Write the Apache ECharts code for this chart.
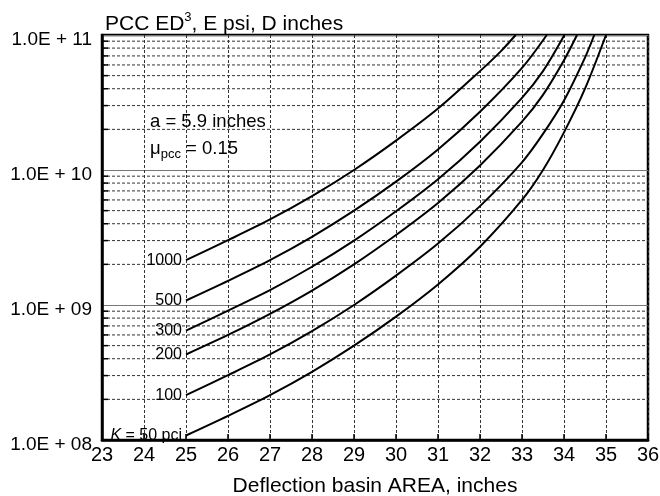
<!DOCTYPE html>
<html>
<head>
<meta charset="utf-8">
<script src="https://cdn.jsdelivr.net/npm/echarts@6/dist/echarts.min.js"></script>
<style>
html,body{margin:0;padding:0;background:#fff;}
#chart{width:660px;height:496px;}
</style>
</head>
<body>
<div id="chart"></div>
<script>
// ---- data ----
const curveLabels = ['{i|K}{t| = 50 pci}', '{t|100}', '{t|200}', '{t|300}', '{t|500}', '{t|1000}'];
const K50   = [[25,1.08e8],[26,1.51e8],[27,2.15e8],[28,3.2e8],[29,5.0e8],[30,8.2e8],[31,1.42e9],[32,2.7e9],[33,6.0e9],[33.5,1.0e10],[34,1.9e10],[34.5,4.0e10],[35.0,1e11]];
const K100  = [[25,2.15e8],[26,3.02e8],[27,4.3e8],[28,6.4e8],[29,1.0e9],[30,1.65e9],[31,2.85e9],[32,5.4e9],[33,1.14e10],[33.5,1.85e10],[34,3.27e10],[34.5,6.8e10],[34.72,1e11]];
const K200  = [[25,4.3e8],[26,6.0e8],[27,8.6e8],[28,1.28e9],[29,2.0e9],[30,3.3e9],[31,5.7e9],[32,1.08e10],[33,2.28e10],[33.5,3.6e10],[34,6.5e10],[34.31,1e11]];
const K300  = [[25,6.45e8],[26,9.1e8],[27,1.29e9],[28,1.92e9],[29,3.0e9],[30,4.95e9],[31,8.55e9],[32,1.62e10],[33,3.42e10],[33.5,5.4e10],[34.01,1e11]];
const K500  = [[25,1.08e9],[26,1.51e9],[27,2.15e9],[28,3.2e9],[29,5.0e9],[30,8.2e9],[31,1.42e10],[32,2.7e10],[33,5.7e10],[33.59,1e11]];
const K1000 = [[25,2.15e9],[26,3.02e9],[27,4.3e9],[28,6.4e9],[29,1.0e10],[30,1.65e10],[31,2.85e10],[32,5.4e10],[32.5,7.6e10],[32.85,1e11]];
const curves = [K50, K100, K200, K300, K500, K1000];
const yTickLabels = {8:'1.0E + 08', 9:'1.0E + 09', 10:'1.0E + 10', 11:'1.0E + 11'};
const xMin = 23, xMax = 36;
const yMin = 1e8, yMax = 1e11;

// minor log gridlines (2..9 per decade)
const minorVals = [];
for (let e = 8; e <= 10; e++) for (let m = 2; m <= 9; m++) minorVals.push([xMin, m * Math.pow(10, e)]);

const FONT = '"Liberation Sans", Arial, sans-serif';
const chart = echarts.init(document.getElementById('chart'), null, {renderer: 'canvas'});

const lineSeries = curves.map((arr, k) => ({
  type: 'line',
  name: 'K' + k,
  data: arr.map((p, i) => i === 0 ? {
    value: p,
    label: {
      show: true, position: [-4, 0], align: 'right', verticalAlign: 'middle',
      formatter: curveLabels[k],
      rich: {
        i: {fontStyle: 'italic', fontFamily: FONT, fontSize: 16, color: '#000'},
        t: {fontFamily: FONT, fontSize: 16, color: '#000'}
      }
    }
  } : p),
  smooth: 0.3,
  symbol: 'circle', symbolSize: 0, showSymbol: true,
  lineStyle: {color: '#000', width: 2},
  itemStyle: {color: '#000'},
  emphasis: {disabled: true},
  silent: true,
  z: 5
}));

const minorSeries = {
  type: 'custom',
  data: minorVals,
  encode: {x: 0, y: 1},
  silent: true,
  clip: false,
  z: 1,
  renderItem: function (params, api) {
    const v = api.value(1);
    const p1 = api.coord([xMin, v]);
    const p2 = api.coord([xMax, v]);
    return {
      type: 'group',
      children: [
        {type: 'line', shape: {x1: p1[0], y1: p1[1], x2: p2[0], y2: p2[1]},
         style: {stroke: '#333', lineWidth: 1, lineDash: [3, 2]}},
        {type: 'line', shape: {x1: p1[0], y1: p1[1], x2: p1[0] + 6, y2: p1[1]},
         style: {stroke: '#000', lineWidth: 1.5}}
      ]
    };
  }
};

chart.setOption({
  animation: false,
  backgroundColor: '#fff',
  title: {
    text: '{t|PCC ED}{sup|3}{t|, E psi, D inches}',
    left: 100, top: 6,
    textStyle: {
      fontWeight: 'normal',
      rich: {
        t: {fontFamily: FONT, fontSize: 21, fontWeight: 'normal', color: '#000', lineHeight: 24, verticalAlign: 'bottom'},
        sup: {fontFamily: FONT, fontSize: 13, fontWeight: 'normal', verticalAlign: 'top', lineHeight: 13, color: '#000'}
      }
    }
  },
  grid: {left: 102, right: 12, top: 35, bottom: 56, show: true, borderColor: '#000', borderWidth: 2.5,
         containLabel: false, outerBoundsMode: 'none'},
  xAxis: {
    type: 'value', min: xMin, max: xMax, interval: 1,
    name: 'Deflection basin AREA, inches', nameLocation: 'middle', nameGap: 35,
    nameTextStyle: {fontFamily: FONT, fontSize: 21, color: '#000', lineHeight: 22},
    axisLine: {show: true, lineStyle: {color: '#000', width: 2.5}},
    axisTick: {show: true, inside: true, length: 6, lineStyle: {color: '#000', width: 1.5}},
    axisLabel: {fontFamily: FONT, fontSize: 20, color: '#000', margin: 5},
    splitLine: {show: true, lineStyle: {color: '#333', width: 1, type: [3, 2]}}
  },
  yAxis: {
    type: 'log', logBase: 10, min: yMin, max: yMax,
    axisLine: {show: true, lineStyle: {color: '#000', width: 2.5}},
    axisTick: {show: false},
    axisLabel: {
      margin: 10,
      formatter: function (v) { return '{v|' + (yTickLabels[Math.round(Math.log10(v))] || '') + '}'; },
      rich: {v: {fontFamily: FONT, fontSize: 19, color: '#000', padding: [10, 0, 0, 0]}}
    },
    splitLine: {show: true, lineStyle: {color: '#777', width: 1}}
  },
  graphic: [
    {type: 'text', left: 150, top: 112, z: 10,
     style: {text: 'a = 5.9 inches', font: '18.5px ' + FONT, fill: '#000'}},
    {type: 'text', left: 150, top: 139, z: 10,
     style: {text: '{m|μ}{s|pcc}{m| = 0.15}', fill: '#000',
       rich: {m: {fontFamily: FONT, fontSize: 18.5, color: '#000', verticalAlign: 'top', lineHeight: 22},
              s: {fontFamily: FONT, fontSize: 13, color: '#000', verticalAlign: 'bottom', lineHeight: 13}}}}
  ],
  series: [minorSeries].concat(lineSeries)
});
</script>
</body>
</html>
